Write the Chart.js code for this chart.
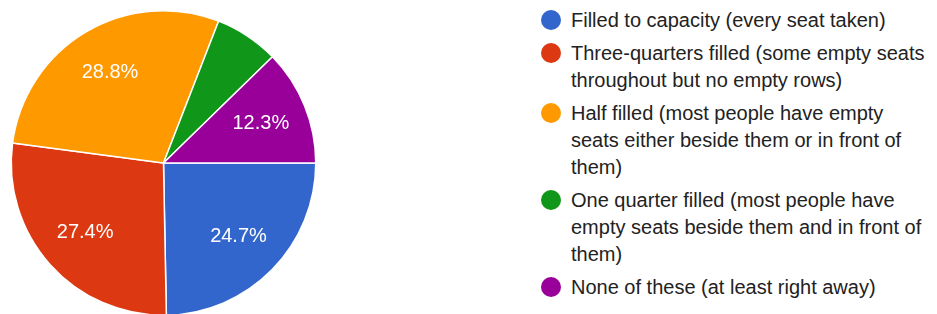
<!DOCTYPE html>
<html>
<head>
<meta charset="utf-8">
<script src="https://cdn.jsdelivr.net/npm/chart.js@4/dist/chart.umd.min.js"></script>
<style>
  html, body { margin: 0; padding: 0; background: #fff; width: 937px; height: 314px; overflow: hidden; }
  #pieWrap { position: absolute; left: 0; top: 0; width: 327px; height: 326px; }
  #legend { position: absolute; left: 541px; top: 6.5px; font-family: "Liberation Sans", Arial, sans-serif; font-size: 20px; line-height: 27px; color: #222; }
  .item { display: flex; align-items: flex-start; margin-bottom: 6px; }
  .dot { width: 20px; height: 20px; border-radius: 50%; margin-top: 3.5px; flex: 0 0 20px; }
  .txt { margin-left: 10px; width: 362px; }
</style>
</head>
<body>
<div id="pieWrap"><canvas id="pie"></canvas></div>
<div id="legend"></div>
<script>
const categories = [
  "Filled to capacity (every seat taken)",
  "Three-quarters filled (some empty seats throughout but no empty rows)",
  "Half filled (most people have empty seats either beside them or in front of them)",
  "One quarter filled (most people have empty seats beside them and in front of them)",
  "None of these (at least right away)"
];
const percentages = [24.7, 27.4, 28.8, 6.8, 12.3];
const colors = ["#3366cc", "#dc3912", "#ff9900", "#109618", "#990099"];

// HTML legend built from the arrays
const legendEl = document.getElementById('legend');
categories.forEach((c, i) => {
  const item = document.createElement('div');
  item.className = 'item';
  const dot = document.createElement('div');
  dot.className = 'dot';
  dot.style.background = colors[i];
  const t = document.createElement('div');
  t.className = 'txt';
  t.textContent = c;
  item.appendChild(dot);
  item.appendChild(t);
  legendEl.appendChild(item);
});

const sliceLabels = {
  id: 'sliceLabels',
  afterDatasetsDraw(chart) {
    const ctx = chart.ctx;
    const meta = chart.getDatasetMeta(0);
    const data = chart.data.datasets[0].data;
    ctx.save();
    ctx.fillStyle = '#ffffff';
    ctx.font = '20px "Liberation Sans", Arial, sans-serif';
    ctx.textAlign = 'center';
    ctx.textBaseline = 'middle';
    meta.data.forEach((arc, i) => {
      if (data[i] < 8) return;
      const p = arc.getProps(['x', 'y', 'startAngle', 'endAngle', 'outerRadius'], true);
      const mid = (p.startAngle + p.endAngle) / 2;
      const r = p.outerRadius * 0.69;
      ctx.fillText(data[i].toFixed(1) + '%', p.x + Math.cos(mid) * r, p.y + Math.sin(mid) * r);
    });
    ctx.restore();
  }
};

new Chart(document.getElementById('pie'), {
  type: 'pie',
  data: {
    labels: categories,
    datasets: [{
      data: percentages,
      backgroundColor: colors,
      borderColor: '#ffffff',
      borderWidth: 1.5,
      hoverOffset: 0
    }]
  },
  options: {
    responsive: true,
    maintainAspectRatio: false,
    animation: false,
    rotation: 90,
    layout: { padding: 10 },
    plugins: {
      legend: { display: false },
      tooltip: { enabled: false }
    }
  },
  plugins: [sliceLabels]
});
</script>
</body>
</html>
